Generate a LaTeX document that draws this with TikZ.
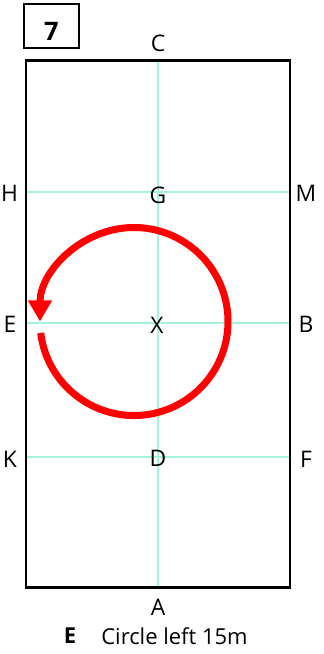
\documentclass[tikz,border=0pt]{standalone}
\usepackage{fontspec}
\setmainfont{Open Sans}
\usetikzlibrary{arrows.meta}
\definecolor{guide}{HTML}{A6F5DA}
\definecolor{path}{HTML}{FF0000}

\begin{document}
\begin{tikzpicture}[x=0.02cm, y=-0.02cm,
  every node/.style={font=\fontsize{13}{15}\selectfont, inner sep=0pt},
  guideline/.style={guide, line width=0.6pt},
  arena/.style={line width=1.7pt}]

\useasboundingbox (0,0) rectangle (324,654);

% --- test number ---
\node[draw, line width=1.1pt, minimum width=55*0.02cm, minimum height=44*0.02cm] (card) at (51.5,26) {};
\node[font=\fontsize{14.5}{16}\selectfont\bfseries] (num) at (51.5,31.5) {7};

% --- arena corners and markers ---
\coordinate (nw) at (26,60);
\coordinate (se) at (290,587);
\coordinate (ctop) at (158,60);
\coordinate (cbot) at (158,587);
\coordinate (hl) at (26,192);  \coordinate (hr) at (290,192);
\coordinate (el) at (26,323);  \coordinate (er) at (290,323);
\coordinate (kl) at (26,457);  \coordinate (kr) at (290,457);

\draw[guideline] (ctop) -- (cbot);
\draw[guideline] (hl) -- (hr);
\draw[guideline] (el) -- (er);
\draw[guideline] (kl) -- (kr);
\draw[arena] (nw) rectangle (se);

\node (C) at (158,43) {C};
\node (A) at (158,607) {A};
\node (H) at (9.5,193) {H};
\node (M) at (306,193) {M};
\node (E) at (10,324) {E};
\node (B) at (306,324) {B};
\node (K) at (10,459) {K};
\node (F) at (306,459) {F};
\node (G) at (158,195) {G};
\node (X) at (157,325) {X};
\node (D) at (158,458) {D};

% --- the movement ---
\draw[path, line width=4pt, -{Triangle[length=12pt, width=13pt]}]
  (134,321.5) ++(173:94) arc[start angle=173, end angle=-180, radius=94];

% --- caption ---
\node[font=\fontsize{12.5}{14}\selectfont\bfseries] (letter) at (70,636) {E};
\node[anchor=west, font=\fontsize{12.5}{14}\selectfont] (move) at (101,636) {Circle left 15m};

\end{tikzpicture}
\end{document}
